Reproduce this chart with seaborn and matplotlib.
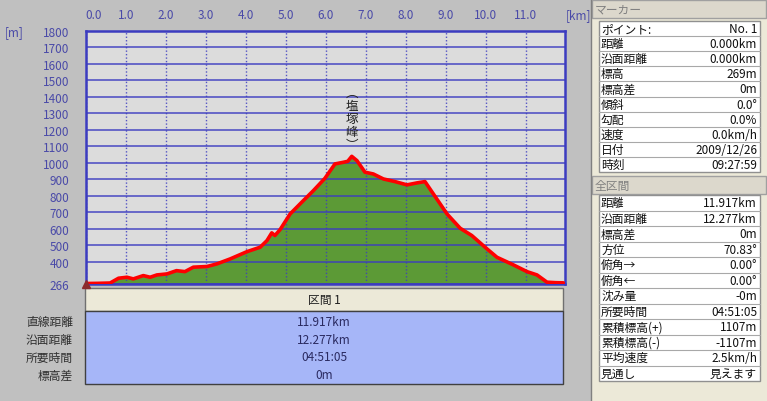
import seaborn as sns
import pandas as pd
import matplotlib.pyplot as plt
from matplotlib.patches import Rectangle

#---------------------------- data ----------------------------#
dist_km = [0.00, 0.30, 0.61, 0.82, 1.03, 1.19, 1.44, 1.61, 1.78, 2.03, 2.27, 2.48,
           2.69, 3.03, 3.28, 3.61, 4.03, 4.36, 4.53, 4.65, 4.73, 4.86, 5.11, 5.40,
           5.69, 5.98, 6.23, 6.44, 6.55, 6.65, 6.78, 6.98, 7.19, 7.44, 7.73, 8.03,
           8.28, 8.48, 8.69, 9.03, 9.36, 9.65, 10.03, 10.28, 10.69, 11.03, 11.28,
           11.53, 11.75, 11.94]
elev_m = [269, 270, 272, 301, 307, 297, 317, 307, 321, 327, 347, 341,
          368, 372, 388, 418, 462, 489, 529, 576, 560, 596, 691, 762,
          832, 907, 994, 1004, 1010, 1040, 1014, 944, 933, 903, 887, 867,
          879, 887, 812, 691, 604, 560, 479, 428, 382, 341, 321,
          277, 274, 273]

x_ticks = list(range(12))
x_tick_labels = ['%.1f' % v for v in x_ticks]
y_ticks = [266] + list(range(400, 1900, 100))
peak_name = '塩塚峰'
peak_km = 6.65

section_title = '区間 1'
section_labels = ['直線距離', '沿面距離', '所要時間', '標高差']
section_values = ['11.917km', '12.277km', '04:51:05', '0m']

marker_labels = ['ポイント:', '距離', '沿面距離', '標高', '標高差', '傾斜', '勾配', '速度', '日付', '時刻']
marker_values = ['No. 1', '0.000km', '0.000km', '269m', '0m', '0.0°', '0.0%', '0.0km/h', '2009/12/26', '09:27:59']

total_labels = ['距離', '沿面距離', '標高差', '方位', '俯角→', '俯角←', '沈み量', '所要時間',
                '累積標高(+)', '累積標高(-)', '平均速度', '見通し']
total_values = ['11.917km', '12.277km', '0m', '70.83°', '0.00°', '0.00°', '-0m', '04:51:05',
                '1107m', '-1107m', '2.5km/h', '見えます']

#---------------------------- style ----------------------------#
sns.set_theme(style='white')
plt.rcParams['font.family'] = ['Noto Sans CJK JP', 'DejaVu Sans']

BG = '#c0c0c0'
BLUE = '#3c3cc0'
LBL_BLUE = '#4a4aa8'
BEIGE = '#ece9d8'

fig = plt.figure(figsize=(7.67, 4.02), dpi=100, facecolor=BG)

# overlay axes in pixel coordinates for the panels around the chart
ov = fig.add_axes([0, 0, 1, 1], zorder=0)
ov.set_xlim(0, 767)
ov.set_ylim(402, 0)
ov.axis('off')

#---------------------------- profile chart ----------------------------#
ax = fig.add_axes([85.7 / 767, 1 - 285 / 402, 479.3 / 767, 253 / 402], zorder=2)
ax.set_facecolor('#dcdcdc')

df = pd.DataFrame({'km': dist_km, 'm': elev_m})
ax.fill_between(df['km'], df['m'], 266, color='#5c9a36', zorder=1, lw=0)
sns.lineplot(data=df, x='km', y='m', color='#ff0000', linewidth=2.6, ax=ax, zorder=3)
ax.plot(dist_km[0], elev_m[0], marker='^', color='#8b2a2a', ms=6, clip_on=False, zorder=4)

ax.set_xlim(0, 11.98)
ax.set_ylim(266, 1800)
ax.set_xticks(x_ticks)
ax.set_xticklabels(x_tick_labels)
ax.set_yticks(y_ticks)
ax.set_yticklabels([str(v) for v in y_ticks])
ax.xaxis.tick_top()
ax.tick_params(axis='x', length=0, pad=7, labelsize=8.5, labelcolor=LBL_BLUE)
ax.tick_params(axis='y', length=0, pad=12, labelsize=8.5, labelcolor=LBL_BLUE)
ax.get_xticklabels()[0].set_ha('left')
ax.set_xlabel('')
ax.set_ylabel('')

ax.set_axisbelow(False)
ax.yaxis.grid(True, color=BLUE, lw=1.2, alpha=0.85)
ax.xaxis.grid(True, color=BLUE, lw=1.0, linestyle=(0, (1, 1.5)), alpha=0.85)
for side in ['top', 'right', 'left', 'bottom']:
    ax.spines[side].set_color(BLUE)
    ax.spines[side].set_linewidth(1.8)

ax.text(peak_km, 1270, '︵\n' + '\n'.join(peak_name) + '\n︶', ha='center', va='center',
        fontsize=9, linespacing=1.02, color='#202020')

fig.text(5 / 767, 1 - 33 / 402, '[m]', fontsize=8.5, color=LBL_BLUE, va='center')
fig.text(566 / 767, 1 - 16 / 402, '[km]', fontsize=8.5, color=LBL_BLUE, va='center')

#---------------------------- section table (below chart) ----------------------------#
ov.add_patch(Rectangle((85, 289), 478, 23, fc=BEIGE, ec='#707070', lw=1))
ov.text(324, 300.5, section_title, ha='center', va='center', fontsize=8.5, color='#202020')
ov.add_patch(Rectangle((85, 312), 478, 73, fc='#a6b6f8', ec='#404040', lw=1))
row_y = [323, 341, 358, 376]
for yy, lab, val in zip(row_y, section_labels, section_values):
    ov.text(73, yy, lab, ha='right', va='center', fontsize=8.5, color='#303030')
    ov.text(324, yy, val, ha='center', va='center', fontsize=8.5, color='#2a2a60')

#---------------------------- right side panel ----------------------------#
ov.add_patch(Rectangle((591, 0), 176, 402, fc=BEIGE, ec='none'))
ov.plot([590.5, 590.5], [0, 402], color='#808080', lw=1)


def info_table(header, header_top, table_top, row_h, labels, values):
    ov.add_patch(Rectangle((592, header_top), 174, 18, fc='#dcd8cc', ec='#a0a0a0', lw=1))
    ov.text(595, header_top + 9, header, ha='left', va='center', fontsize=8.5, color='#808080')
    n = len(labels)
    ov.add_patch(Rectangle((599, table_top), 161, n * row_h, fc='white', ec='#909090', lw=1))
    for i, (lab, val) in enumerate(zip(labels, values)):
        y0 = table_top + i * row_h
        if i > 0:
            ov.plot([599, 760], [y0, y0], color='#a8a8a8', lw=0.8)
        ov.text(601, y0 + row_h / 2, lab, ha='left', va='center', fontsize=8.5, color='#101010')
        ov.text(757, y0 + row_h / 2, val, ha='right', va='center', fontsize=8.5, color='#101010')


info_table('マーカー', 1, 22, 15.1, marker_labels, marker_values)
info_table('全区間', 177, 196, 15.5, total_labels, total_values)

plt.savefig('out.png', dpi=100, facecolor=BG)
